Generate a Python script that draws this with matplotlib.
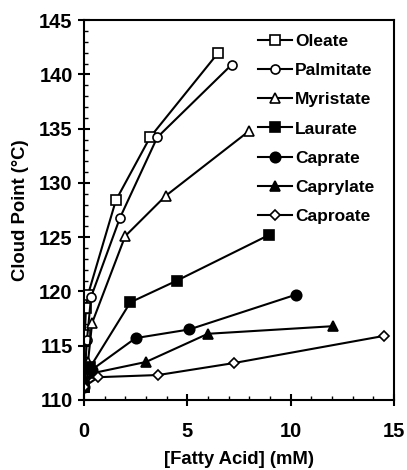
import matplotlib
matplotlib.use("Agg")
import matplotlib.pyplot as plt
from matplotlib.ticker import MultipleLocator

plt.rcParams['font.family'] = ['Liberation Sans', 'DejaVu Sans']
plt.rcParams['font.weight'] = 'bold'

names = ['Oleate', 'Palmitate', 'Myristate', 'Laurate', 'Caprate', 'Caprylate', 'Caproate']
x_oleate = [0, 0.05, 0.1, 0.2, 1.55, 3.2, 6.5]
y_oleate = [111.2, 116.0, 118.5, 119.7, 128.4, 134.2, 142.0]
x_palmitate = [0, 0.15, 0.35, 1.75, 3.55, 7.15]
y_palmitate = [111.2, 115.5, 119.5, 126.8, 134.2, 140.9]
x_myristate = [0, 0.2, 0.4, 2.0, 3.95, 8.0]
y_myristate = [111.2, 113.5, 117.1, 125.1, 128.8, 134.8]
x_laurate = [0, 0.3, 2.25, 4.5, 8.95]
y_laurate = [111.2, 113.0, 119.0, 121.0, 125.2]
x_caprate = [0, 0.4, 2.5, 5.1, 10.25]
y_caprate = [111.2, 112.8, 115.7, 116.5, 119.7]
x_caprylate = [0, 0.5, 3.0, 6.0, 12.05]
y_caprylate = [111.2, 112.5, 113.5, 116.1, 116.8]
x_caproate = [0, 0.7, 3.6, 7.25, 14.5]
y_caproate = [111.2, 112.1, 112.3, 113.4, 115.9]

series = [
    (x_oleate, y_oleate, 's', 'white', 6.5),
    (x_palmitate, y_palmitate, 'o', 'white', 6.5),
    (x_myristate, y_myristate, '^', 'white', 7),
    (x_laurate, y_laurate, 's', 'black', 7),
    (x_caprate, y_caprate, 'o', 'black', 7.5),
    (x_caprylate, y_caprylate, '^', 'black', 7),
    (x_caproate, y_caproate, 'D', 'white', 5),
]

fig = plt.figure(figsize=(4.07, 4.70), dpi=100)
ax = fig.add_axes([0.206, 0.149, 0.762, 0.808])

for name, (xs, ys, mk, fc, ms) in zip(names, series):
    ax.plot(xs, ys, '-', color='black', linewidth=1.5, marker=mk,
            markerfacecolor=fc, markeredgecolor='black', markeredgewidth=1.2,
            markersize=ms, label=name)

ax.set_xlim(0, 15)
ax.set_ylim(110, 145)
ax.xaxis.set_major_locator(MultipleLocator(5))
ax.xaxis.set_minor_locator(MultipleLocator(1))
ax.yaxis.set_major_locator(MultipleLocator(5))
ax.yaxis.set_minor_locator(MultipleLocator(1))
ax.tick_params(which='major', direction='inout', length=8, width=1.5, labelsize=14.5)
ax.tick_params(which='minor', direction='in', length=3, width=1)
ax.tick_params(axis='x', pad=12)
ax.tick_params(axis='y', pad=4)
for sp in ax.spines.values():
    sp.set_linewidth(1.5)

ax.set_xlabel('[Fatty Acid] (mM)', fontsize=13.3, fontweight='bold', labelpad=7)
ax.set_ylabel('Cloud Point (°C)', fontsize=13.3, fontweight='bold', labelpad=7)

leg = ax.legend(loc='upper left', frameon=False, fontsize=12.5, handlelength=2.0,
                handletextpad=0.15, labelspacing=0.8, borderaxespad=0.0,
                borderpad=0.0, bbox_to_anchor=(0.56, 0.963))
for t in leg.get_texts():
    t.set_fontweight('bold')

fig.savefig('out.png', dpi=100)
